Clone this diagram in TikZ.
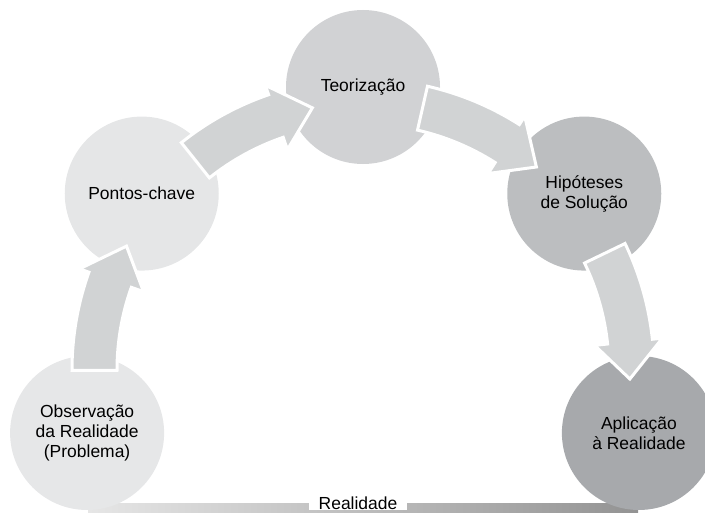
\documentclass[tikz,border=0pt]{standalone}
\usepackage{fontspec}
\setmainfont{Liberation Sans}
\usepackage{xcolor}
\usetikzlibrary{calc}

\definecolor{obsgray}{HTML}{E6E7E8}
\definecolor{keygray}{HTML}{E5E6E7}
\definecolor{theorygray}{HTML}{D1D2D4}
\definecolor{hypgray}{HTML}{BCBEC0}
\definecolor{applgray}{HTML}{A7A9AC}
\definecolor{arrowgray}{HTML}{D1D3D4}
\definecolor{barlight}{HTML}{E6E6E6}
\definecolor{bardark}{HTML}{939393}

% curved block arrow between two neighbouring stages (#1 = angle of the stage it leaves)
\newcommand{\cyclearrow}[1]{%
	\draw[cyclearr] (#1-12.8:291) arc[start angle=#1-12.8, end angle=#1-32.5, radius=291]
		-- (#1-32.5:301) -- (#1-40.5:267) -- (#1-32.5:233) -- (#1-32.5:246)
		arc[start angle=#1-32.5, end angle=#1-12.8, radius=246] -- cycle;}

\begin{document}
\begin{tikzpicture}[
		x=0.75pt, y=0.75pt,
		% Style definitions
		stage/.style={circle, minimum size=115.5pt, inner sep=0pt, align=center, font=\fontsize{13.1}{15}\selectfont},
		cyclearr/.style={fill=arrowgray, draw=white, line width=2.25pt},
		barlabel/.style={fill=white, inner xsep=7.5pt, inner ysep=0.5pt, font=\fontsize{13.1}{15}\selectfont},
		]
		\useasboundingbox (0,0) rectangle (705,512);
		\clip (0,0) rectangle (705,512);

		% === Bottom bar: Realidade ===
		\shade[left color=barlight, right color=bardark] (88,0) rectangle (638,9);
		\node[barlabel, anchor=base] (real) at (358,3) {Realidade};

		\coordinate (ctr) at (363,142);
		\begin{scope}[shift={(ctr)}]
			% === Stages on the arc ===
			\node[stage, fill=obsgray] (obs) at (192.86:283) {Observação\\da Realidade\\(Problema)};
			\node[stage, fill=keygray] (key) at (141.43:283) {Pontos-chave};
			\node[stage, fill=theorygray] (theory) at (90:283) {Teorização};
			\node[stage, fill=hypgray] (hyp) at (38.57:283) {Hipóteses\\de Solução};
			\node[stage, fill=applgray] (appl) at (-12.86:283) {Aplicação\\à Realidade};

			% === Arrows: obs -> key -> theory -> hyp -> appl ===
			\cyclearrow{192.86}
			\cyclearrow{141.43}
			\cyclearrow{90}
			\cyclearrow{38.57}
		\end{scope}
	\end{tikzpicture}
\end{document}
